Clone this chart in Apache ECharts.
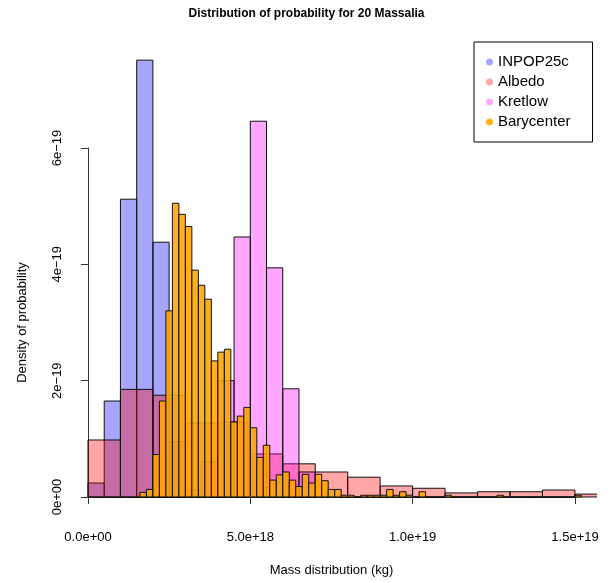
<!DOCTYPE html>
<html>
<head>
<meta charset="utf-8">
<script src="https://cdn.jsdelivr.net/npm/echarts@6/dist/echarts.min.js"></script>
<style>
html, body { margin: 0; padding: 0; background: #fff; }
#chart { width: 613px; height: 583px; }
</style>
</head>
<body>
<div id="chart"></div>
<script>
// mass in units of 1e18 kg, density in units of 1e-19
var inpopEdges = [0, 0.5, 1.0, 1.5, 2.0, 2.5, 3.0, 3.5];
var inpopDensity = [0.24, 1.65, 5.12, 7.51, 4.38, 0.95, 0.12];

var albedoEdges = [0, 1, 2, 3, 4, 5, 6, 7, 8, 9, 10, 11, 12, 13, 14, 15, 16];
var albedoDensity = [0.98, 1.85, 1.75, 1.27, 1.29, 0.74, 0.57, 0.43, 0.34, 0.19, 0.15, 0.07, 0.09, 0.09, 0.12, 0.05];

var kretlowEdges = [3.5, 4.0, 4.5, 5.0, 5.5, 6.0, 6.5, 7.0];
var kretlowDensity = [0.61, 2.00, 4.47, 6.46, 3.94, 1.86, 0.43];

// barycenter bins: 0.2e18 wide starting at 1.6e18
var baryStart = 1.6, baryWidth = 0.2;
var baryDensity = [
  0.08, 0.13, 0.73, 1.65, 3.20, 5.05, 4.86, 4.65, 3.90, 3.64,
  3.40, 2.34, 2.49, 2.54, 1.29, 1.39, 1.54, 1.19, 0.68, 0.89,
  0.29, 0.38, 0.43, 0.29, 0.18, 0.39, 0.24, 0.39, 0.28, 0.13,
  0.13, 0.03, 0.03, 0, 0.03, 0.03, 0.03, 0.03, 0.13, 0.03,
  0.09, 0.03, 0, 0.09, 0, 0, 0, 0.03, 0, 0,
  0, 0, 0, 0, 0, 0.03, 0, 0, 0, 0,
  0, 0, 0, 0, 0, 0, 0, 0.03
];

var seriesNames = ['INPOP25c', 'Albedo', 'Kretlow', 'Barycenter'];
var seriesColors = ['rgba(0,0,255,0.35)', 'rgba(255,0,0,0.35)', 'rgba(255,0,255,0.35)', 'rgba(255,165,0,0.88)'];

var xTickLabels = ['0.0e+00', '5.0e+18', '1.0e+19', '1.5e+19'];
var yTickLabels = ['0e+00', '2e\u221219', '4e\u221219', '6e\u221219'];

function binsFromEdges(edges, dens) {
  var out = [];
  for (var i = 0; i < dens.length; i++) out.push([edges[i], edges[i + 1], dens[i]]);
  return out;
}
var baryEdges = [];
for (var i = 0; i <= baryDensity.length; i++) baryEdges.push(+(baryStart + i * baryWidth).toFixed(2));

var histData = [
  binsFromEdges(inpopEdges, inpopDensity),
  binsFromEdges(albedoEdges, albedoDensity),
  binsFromEdges(kretlowEdges, kretlowDensity),
  binsFromEdges(baryEdges, baryDensity)
];

function histRect(fill) {
  return function (params, api) {
    var a = api.coord([api.value(0), api.value(2)]);
    var b = api.coord([api.value(1), 0]);
    return {
      type: 'rect',
      shape: { x: a[0], y: a[1], width: b[0] - a[0], height: b[1] - a[1] },
      style: { fill: fill, stroke: '#111', lineWidth: 1 }
    };
  };
}

var chart = echarts.init(document.getElementById('chart'));

var series = seriesNames.map(function (name, k) {
  return {
    name: name,
    type: 'custom',
    xAxisIndex: 0,
    yAxisIndex: 0,
    clip: true,
    silent: true,
    renderItem: histRect(seriesColors[k]),
    itemStyle: { color: seriesColors[k] },
    encode: { x: [0, 1], y: 2 },
    data: histData[k]
  };
});

var axisFont = { fontFamily: 'Liberation Sans', fontSize: 13, color: '#000' };

option = {
  backgroundColor: '#fff',
  animation: false,
  title: {
    text: 'Distribution of probability for 20 Massalia',
    left: 'center',
    top: 3,
    textStyle: { fontFamily: 'Liberation Sans', fontSize: 12, fontWeight: 'bold', color: '#000' }
  },
  legend: {
    orient: 'vertical',
    left: 474,
    top: 42,
    data: seriesNames,
    icon: 'circle',
    itemWidth: 7,
    itemHeight: 7,
    itemGap: 4,
    itemTextGap: 13,
    padding: [12, 22, 12, 12],
    borderColor: '#000',
    borderWidth: 1,
    borderRadius: 0,
    textStyle: { fontFamily: 'Liberation Sans', fontSize: 15, lineHeight: 16, color: '#000' }
  },
  grid: [
    // plot region
    { left: 75, right: 16, top: 43, bottom: 66 },
    // axis placement (0..1.5e19, 0..6e-19)
    { left: 88, right: 38, top: 148, bottom: 86 }
  ],
  xAxis: [
    { gridIndex: 0, type: 'value', min: -0.4, max: 15.68, show: false },
    {
      gridIndex: 1, type: 'value', min: 0, max: 15, interval: 5,
      position: 'bottom', offset: 20,
      name: 'Mass distribution (kg)', nameLocation: 'middle', nameGap: 47,
      nameTextStyle: axisFont,
      axisLine: { lineStyle: { color: '#333', width: 1 } },
      axisTick: { length: 7, lineStyle: { color: '#333' } },
      axisLabel: Object.assign({ margin: 14, formatter: function (v) { return xTickLabels[Math.round(v / 5)]; } }, axisFont),
      splitLine: { show: false }
    }
  ],
  yAxis: [
    { gridIndex: 0, type: 'value', min: -0.344, max: 7.805, show: false },
    {
      gridIndex: 1, type: 'value', min: 0, max: 6, interval: 2,
      position: 'left', offset: 13,
      name: 'Density of probability', nameLocation: 'middle', nameGap: 46, nameRotate: 90,
      nameTextStyle: axisFont,
      axisLine: { lineStyle: { color: '#333', width: 1 } },
      axisTick: { length: 7, lineStyle: { color: '#333' } },
      axisLabel: Object.assign({ margin: 11, rotate: 90, formatter: function (v) { return yTickLabels[Math.round(v / 2)]; } }, axisFont),
      splitLine: { show: false }
    }
  ],
  series: series
};
chart.setOption(option);
</script>
</body>
</html>
